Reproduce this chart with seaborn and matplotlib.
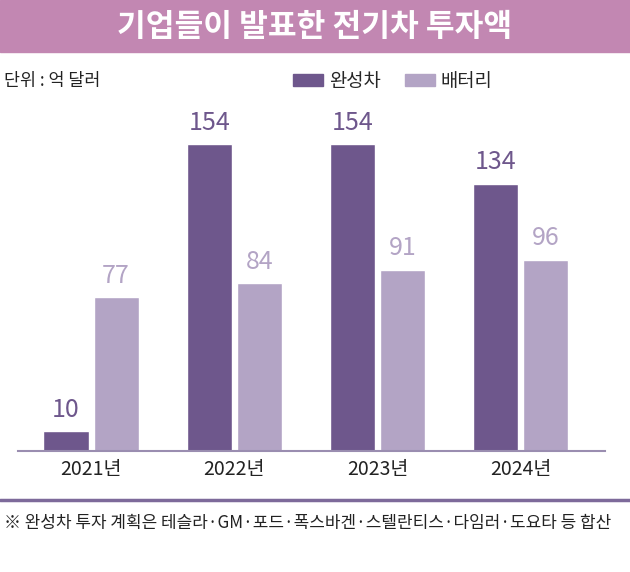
import pandas as pd
import matplotlib.pyplot as plt
import seaborn as sns
from matplotlib.patches import Rectangle, Patch

# data (unit: 100 million dollars)
years = ['2021년', '2022년', '2023년', '2024년']
cars = [10, 154, 154, 134]
battery = [77, 84, 91, 96]
series = ['완성차', '배터리']

dark = '#6e578c'
light = '#b3a4c5'

df = pd.DataFrame({
    'year': years * 2,
    'value': cars + battery,
    'kind': [series[0]] * 4 + [series[1]] * 4,
})

sns.set_theme(style='white')
plt.rcParams['font.family'] = ['Noto Sans CJK KR', 'DejaVu Sans']

fig = plt.figure(figsize=(6.3, 5.72), dpi=100)
ax = fig.add_axes([18 / 630, 121 / 572, 587 / 630, 341 / 572])

sns.barplot(data=df, x='year', y='value', hue='kind', palette=[dark, light],
            width=0.7, gap=0.1, ax=ax, legend=False, saturation=1)

for cont, col in zip(ax.containers, [dark, light]):
    ax.bar_label(cont, padding=6, color=col, fontsize=18, fontweight='medium')

ax.set_xlim(-0.51, 3.59)
ax.set_ylim(0, 171)
ax.set_xlabel('')
ax.set_ylabel('')
ax.set_yticks([])
ax.tick_params(axis='x', labelsize=14, colors='#222222', length=0, pad=6)
for s in ['top', 'right', 'left']:
    ax.spines[s].set_visible(False)
ax.spines['bottom'].set_color('#9a8db0')
ax.spines['bottom'].set_linewidth(1.5)

# title band
fig.patches.append(Rectangle((0, 1 - 52 / 572), 1, 52 / 572, transform=fig.transFigure,
                             color='#c287b2', zorder=0))
fig.text(0.5, 1 - 27 / 572, '기업들이 발표한 전기차 투자액', ha='center', va='center',
         color='white', fontsize=22.5, fontweight='bold')

fig.text(4 / 630, 1 - 81 / 572, '단위 : 억 달러', ha='left', va='center',
         fontsize=12.5, color='#222222')

handles = [Patch(color=dark), Patch(color=light)]
fig.legend(handles, series, loc='center right', bbox_to_anchor=(502 / 630, 1 - 81 / 572),
           ncol=2, frameon=False, fontsize=13.5, handlelength=1.6, handleheight=0.6,
           columnspacing=1.3, handletextpad=0.3, borderpad=0)

# footer
fig.add_artist(plt.Line2D([0, 1], [1 - 500 / 572] * 2, transform=fig.transFigure,
                          color='#7d6a9a', linewidth=2.5))
fig.text(4 / 630, 1 - 523 / 572,
         '※ 완성차 투자 계획은 테슬라·GM·포드·폭스바겐·스텔란티스·다임러·도요타 등 합산',
         ha='left', va='center', fontsize=12.2, color='#222222')

fig.savefig('out.png', dpi=100)
